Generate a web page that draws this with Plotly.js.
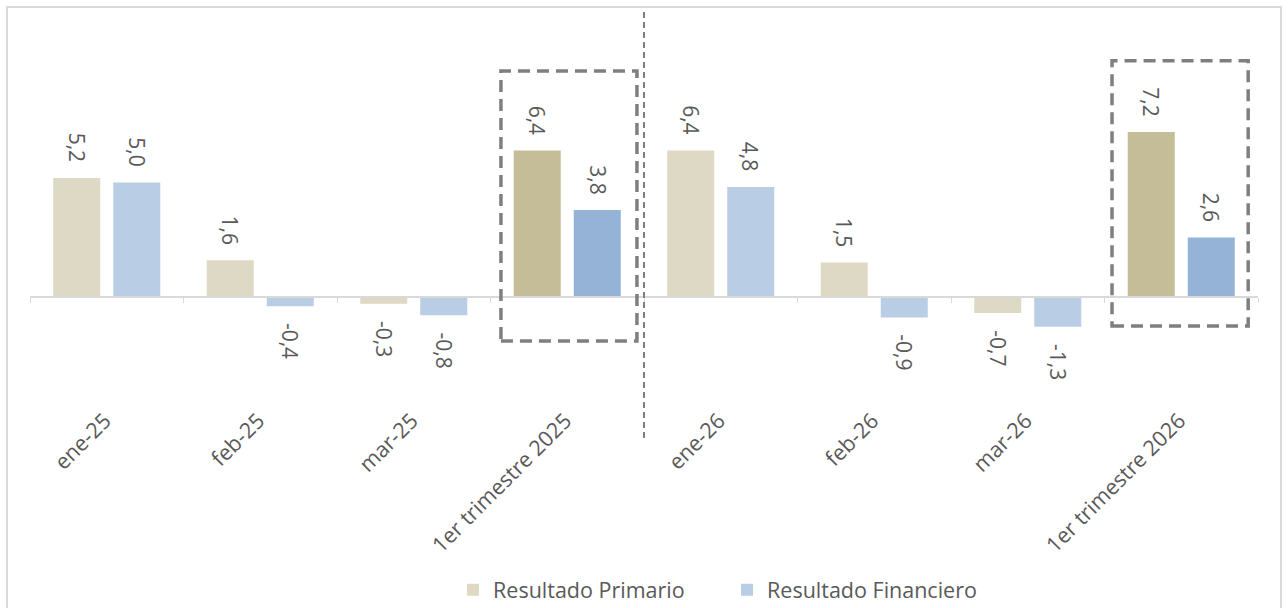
<!DOCTYPE html>
<html>
<head>
<meta charset="utf-8">
<script src="https://cdn.plot.ly/plotly-3.0.1.min.js"></script>
<style>
  html, body { margin: 0; padding: 0; background: #ffffff; }
  #chart { width: 1288px; height: 608px; }
</style>
</head>
<body>
<div id="chart"></div>
<script>
// ---- data ----
var categories = ['ene-25', 'feb-25', 'mar-25', '1er trimestre 2025', 'ene-26', 'feb-26', 'mar-26', '1er trimestre 2026'];
var resultadoPrimario = [5.2, 1.6, -0.3, 6.4, 6.4, 1.5, -0.7, 7.2];
var resultadoFinanciero = [5.0, -0.4, -0.8, 3.8, 4.8, -0.9, -1.3, 2.6];
var seriesNames = ['Resultado Primario', 'Resultado Financiero'];

// ---- styles ----
var isQuarter = categories.map(function (c) { return c.indexOf('trimestre') >= 0; });
var primLight = '#DDD9C4', primDark = '#C4BD97';
var finLight = '#B9CDE5', finDark = '#95B3D7';
var textColor = '#595959';
var fontFam = '"Open Sans", "Noto Sans", sans-serif';

function fmt(v) { return v.toFixed(1).replace('.', ','); }

var traces = [
  {
    type: 'bar', name: seriesNames[0], x: categories, y: resultadoPrimario,
    marker: { color: isQuarter.map(function (q) { return q ? primDark : primLight; }) },
    hoverinfo: 'x+y'
  },
  {
    type: 'bar', name: seriesNames[1], x: categories, y: resultadoFinanciero,
    marker: { color: isQuarter.map(function (q) { return q ? finDark : finLight; }) },
    hoverinfo: 'x+y'
  },
  {
    // carrier for the zero-line axis with boundary ticks
    type: 'scatter', mode: 'markers', x: categories, y: categories.map(function () { return 0; }),
    xaxis: 'x2', marker: { opacity: 0 }, hoverinfo: 'skip', showlegend: false
  }
];

var annotations = [];
[resultadoPrimario, resultadoFinanciero].forEach(function (arr, s) {
  arr.forEach(function (v, i) {
    annotations.push({
      x: categories[i], y: v, xref: 'x', yref: 'y',
      xshift: s === 0 ? -30 : 30,
      yshift: v >= 0 ? 14 : -15,
      yanchor: v >= 0 ? 'bottom' : 'top',
      xanchor: 'center',
      text: fmt(v), textangle: 90, showarrow: false,
      font: { family: fontFam, size: 21, color: textColor }
    });
  });
});

var zeroPos = 98 / 385;

var layout = {
  width: 1288, height: 608,
  margin: { l: 30, r: 30, t: 10, b: 213, autoexpand: false },
  paper_bgcolor: '#ffffff', plot_bgcolor: '#ffffff',
  barmode: 'group', bargap: 0.218, bargroupgap: 0.217,
  showlegend: true,
  legend: {
    orientation: 'h', x: 0.3445, xanchor: 'left', y: -0.506, yanchor: 'middle',
    font: { family: fontFam, size: 21.5, color: textColor },
    traceorder: 'normal', itemwidth: 30, entrywidth: 229, entrywidthmode: 'pixels'
  },
  font: { family: fontFam, color: textColor },
  xaxis: {
    type: 'category', categoryorder: 'array', categoryarray: categories,
    range: [-0.5, 7.5], showline: false, ticks: '', showgrid: false, zeroline: false,
    tickangle: -45, tickfont: { family: fontFam, size: 21.5, color: textColor },
    ticklabelstandoff: 8, ticklabelshift: -2,
    automargin: false, fixedrange: true
  },
  xaxis2: {
    type: 'category', categoryorder: 'array', categoryarray: categories,
    range: [-0.5, 7.5], overlaying: 'x', anchor: 'free', position: zeroPos, side: 'bottom',
    showline: true, linecolor: '#D9D9D9', linewidth: 2,
    ticks: 'outside', tickson: 'boundaries', ticklen: 5, tickcolor: '#D9D9D9', tickwidth: 1,
    showticklabels: false, showgrid: false, zeroline: false, automargin: false, fixedrange: true
  },
  yaxis: {
    range: [-4.28, 12.53], showgrid: false, zeroline: false, showticklabels: false,
    ticks: '', showline: false, automargin: false, fixedrange: true
  },
  annotations: annotations,
  shapes: [
    // outer border
    { type: 'rect', xref: 'paper', yref: 'paper', x0: -0.0187, x1: 1.0187, y0: -0.6, y1: 1.0078,
      line: { color: '#D9D9D9', width: 2 }, fillcolor: 'rgba(0,0,0,0)', layer: 'below' },
    // separator
    { type: 'line', xref: 'x', yref: 'paper', x0: 3.5, x1: 3.5, y0: -0.112, y1: 0.995,
      line: { color: '#7F7F7F', width: 2, dash: '6px,4px' } },
    // highlight boxes
    { type: 'rect', xref: 'x', yref: 'y', x0: 2.568, x1: 3.454, y0: -1.92, y1: 9.87,
      line: { color: '#7F7F7F', width: 3.5, dash: '12px,7px' }, fillcolor: 'rgba(0,0,0,0)' },
    { type: 'rect', xref: 'x', yref: 'y', x0: 6.549, x1: 7.436, y0: -1.27, y1: 10.31,
      line: { color: '#7F7F7F', width: 3.5, dash: '12px,7px' }, fillcolor: 'rgba(0,0,0,0)' }
  ]
};

Plotly.newPlot('chart', traces, layout, { displayModeBar: false, staticPlot: true });
</script>
</body>
</html>
